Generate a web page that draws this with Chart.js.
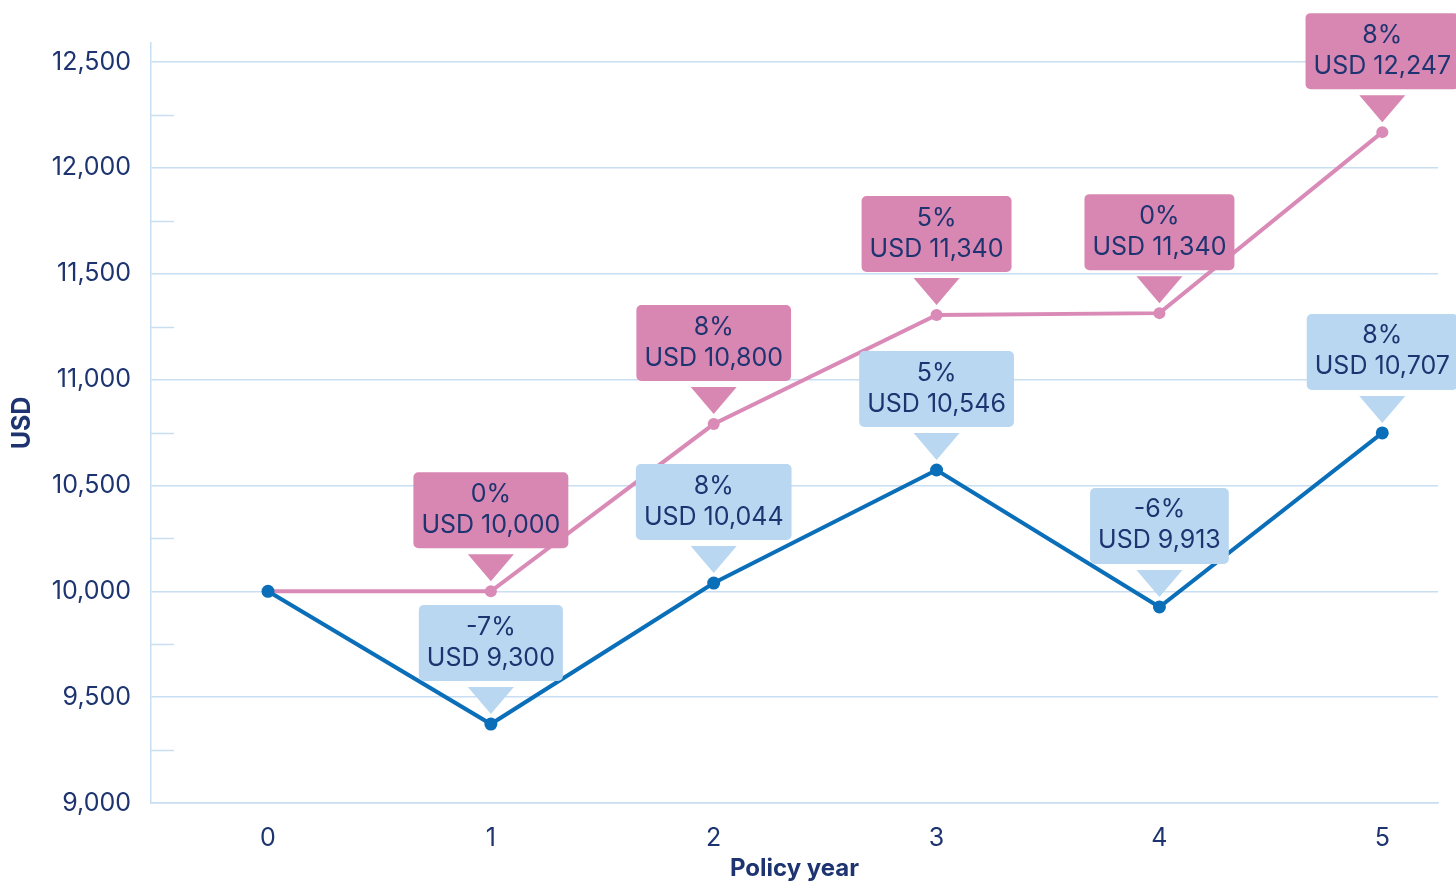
<!DOCTYPE html>
<html>
<head>
<meta charset="utf-8">
<script src="https://cdn.jsdelivr.net/npm/chart.js@4/dist/chart.umd.min.js"></script>
<style>
  html, body { margin: 0; padding: 0; background: #fff; }
  #wrap { width: 1456px; height: 883px; }
</style>
</head>
<body>
<div id="wrap"><canvas id="chart"></canvas></div>
<script>
// values
const years = [0, 1, 2, 3, 4, 5];
const pinkValues = [10000, 10000, 10790, 11305, 11314, 12169];
const blueValues = [10000, 9373, 10039, 10573, 9926, 10748];
const pinkPct = [null, "0%", "8%", "5%", "0%", "8%"];
const pinkText = [null, "USD 10,000", "USD 10,800", "USD 11,340", "USD 11,340", "USD 12,247"];
const bluePct = [null, "-7%", "8%", "5%", "-6%", "8%"];
const blueText = [null, "USD 9,300", "USD 10,044", "USD 10,546", "USD 9,913", "USD 10,707"];
const yTicks = [9000, 9500, 10000, 10500, 11000, 11500, 12000, 12500];
const yMinor = [9250, 9750, 10250, 10750, 11250, 11750, 12250];

const navy = "#1d3470";
const gridBlue = "#c8def2";
const pinkLine = "#d98ab6";
const pinkBox = "#d886b2";
const blueLine = "#0a6fb8";
const blueBox = "#b9d7f1";
const font = "Inter, 'Noto Sans', sans-serif";

const minorTicks = {
	id: "minorTicks",
	beforeDatasetsDraw(chart) {
		const ctx = chart.ctx;
		const y = chart.scales.y;
		const left = chart.chartArea.left;
		ctx.save();
		ctx.strokeStyle = gridBlue;
		ctx.lineWidth = 1.5;
		yMinor.forEach((v) => {
			const py = Math.round(y.getPixelForValue(v)) + 0.5;
			ctx.beginPath();
			ctx.moveTo(left, py);
			ctx.lineTo(left + 23, py);
			ctx.stroke();
		});
		ctx.restore();
	}
};

function drawCallout(ctx, x, y, pct, text, fill) {
	ctx.font = "400 25px " + font;
	const w = Math.max(ctx.measureText(pct).width, ctx.measureText(text).width) + 16;
	const h = 76;
	const bottom = y - 43;
	const top = bottom - h;
	ctx.fillStyle = fill;
	ctx.beginPath();
	ctx.roundRect(x - w / 2, top, w, h, 5);
	ctx.fill();
	ctx.beginPath();
	ctx.moveTo(x - 23, y - 37);
	ctx.lineTo(x + 23, y - 37);
	ctx.lineTo(x, y - 10);
	ctx.closePath();
	ctx.fill();
	ctx.fillStyle = navy;
	ctx.textAlign = "center";
	ctx.textBaseline = "middle";
	ctx.fillText(pct, x, top + 22);
	ctx.fillText(text, x, top + 53);
}

const callouts = {
	id: "callouts",
	afterDatasetsDraw(chart) {
		const ctx = chart.ctx;
		ctx.save();
		const sets = [
			{ idx: 1, pct: pinkPct, text: pinkText, fill: pinkBox },
			{ idx: 0, pct: bluePct, text: blueText, fill: blueBox }
		];
		sets.forEach((s) => {
			const meta = chart.getDatasetMeta(s.idx);
			meta.data.forEach((pt, i) => {
				if (!s.pct[i]) return;
				drawCallout(ctx, pt.x, pt.y, s.pct[i], s.text[i], s.fill);
			});
		});
		ctx.restore();
	}
};

new Chart(document.getElementById("chart"), {
	type: "line",
	data: {
		datasets: [
			{
				label: "Blue",
				data: years.map((x, i) => ({ x: x, y: blueValues[i] })),
				borderColor: blueLine,
				backgroundColor: blueLine,
				borderWidth: 4,
				pointRadius: 6.5,
				pointBackgroundColor: blueLine,
				pointBorderWidth: 0,
				order: 0
			},
			{
				label: "Pink",
				data: years.map((x, i) => ({ x: x, y: pinkValues[i] })),
				borderColor: pinkLine,
				backgroundColor: pinkLine,
				borderWidth: 4,
				pointRadius: 6,
				pointBackgroundColor: pinkLine,
				pointBorderWidth: 0,
				order: 1
			}
		]
	},
	options: {
		responsive: true,
		maintainAspectRatio: false,
		animation: false,
		layout: { padding: { top: 43, right: 18, left: 0, bottom: 0 } },
		plugins: { legend: { display: false }, tooltip: { enabled: false } },
		scales: {
			x: {
				type: "linear",
				min: -0.525,
				max: 5.25,
				afterBuildTicks: (s) => { s.ticks = years.map((v) => ({ value: v })); },
				afterFit: (s) => { s.height = 80; },
				grid: { display: false, drawTicks: false },
				border: { color: gridBlue, width: 1.5 },
				ticks: { color: navy, font: { family: font, size: 25 }, padding: 20 },
				title: {
					display: true,
					text: "Policy year",
					color: navy,
					font: { family: font, size: 24, weight: "bold" },
					padding: { top: 0, bottom: 0 }
				}
			},
			y: {
				min: 9000,
				max: 12590,
				afterBuildTicks: (s) => { s.ticks = yTicks.map((v) => ({ value: v })); },
				afterFit: (s) => { s.width = 151; },
				grid: { color: gridBlue, lineWidth: 1.5, drawTicks: false },
				border: { color: gridBlue, width: 1.5 },
				ticks: {
					color: navy,
					font: { family: font, size: 25 },
					padding: 20,
					callback: (v) => v.toLocaleString("en-US")
				},
				title: {
					display: true,
					text: "USD",
					color: navy,
					font: { family: font, size: 25, weight: "bold" },
					padding: { top: 7, bottom: 0 }
				}
			}
		}
	},
	plugins: [minorTicks, callouts]
});
</script>
</body>
</html>
